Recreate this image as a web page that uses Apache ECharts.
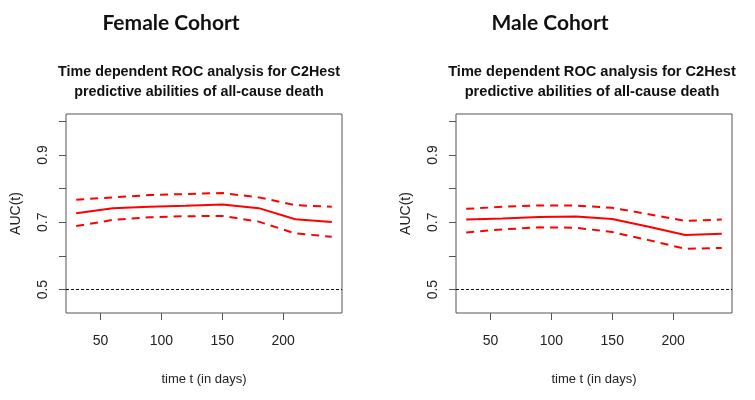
<!DOCTYPE html>
<html>
<head>
<meta charset="utf-8">
<script src="https://cdn.jsdelivr.net/npm/echarts@6/dist/echarts.min.js"></script>
<style>
  html, body { margin: 0; padding: 0; background: #fff; }
  #chart { width: 755px; height: 400px; }
</style>
</head>
<body>
<div id="chart"></div>
<script>
// time points (days)
const times = [30, 60, 90, 120, 150, 180, 210, 240];

// female cohort: AUC(t) and 95% CI
const femaleAUC   = [0.727, 0.742, 0.746, 0.749, 0.753, 0.742, 0.709, 0.701];
const femaleUpper = [0.767, 0.774, 0.781, 0.784, 0.787, 0.774, 0.751, 0.746];
const femaleLower = [0.689, 0.707, 0.715, 0.718, 0.719, 0.702, 0.667, 0.657];

// male cohort
const maleAUC   = [0.708, 0.711, 0.716, 0.717, 0.710, 0.687, 0.662, 0.666];
const maleUpper = [0.740, 0.746, 0.750, 0.750, 0.743, 0.724, 0.704, 0.708];
const maleLower = [0.670, 0.679, 0.685, 0.684, 0.671, 0.647, 0.621, 0.624];

const xTicks = [50, 100, 150, 200];
const yTicks = [0.5, 0.6, 0.7, 0.8, 0.9, 1.0];
const yLabels = [0.5, 0.7, 0.9];
const refLevel = 0.5;

const cohortTitles = ['Female Cohort', 'Male Cohort'];
const plotTitle = 'Time dependent ROC analysis for C2Hest\npredictive abilities of all-cause death';

const rFont = '"Liberation Sans", Arial, sans-serif';
const boxColor = '#555';

const chart = echarts.init(document.getElementById('chart'));

function pairs(ys) {
  return times.map((t, i) => [t, ys[i]]);
}

function xAxisFor(idx) {
  return {
    gridIndex: idx, type: 'value', min: 21.6, max: 248.4,
    name: 'time t (in days)', nameLocation: 'middle', nameGap: 60,
    nameTextStyle: { fontFamily: rFont, fontSize: 13, color: '#222' },
    axisLine: { show: false },
    splitLine: { show: false },
    axisTick: { show: true, length: 7, customValues: xTicks, lineStyle: { color: boxColor } },
    axisLabel: { customValues: xTicks, margin: 21, fontFamily: rFont, fontSize: 14, color: '#222' }
  };
}

function yAxisFor(idx) {
  return {
    gridIndex: idx, type: 'value', min: 0.4305, max: 1.0218,
    name: 'AUC(t)', nameLocation: 'middle', nameRotate: 90, nameGap: 43,
    nameTextStyle: { fontFamily: rFont, fontSize: 14, color: '#222' },
    axisLine: { show: false },
    splitLine: { show: false },
    axisTick: { show: true, length: 7, customValues: yTicks, lineStyle: { color: boxColor } },
    axisLabel: {
      customValues: yLabels, rotate: 90, margin: 16,
      fontFamily: rFont, fontSize: 14, color: '#222',
      formatter: v => v.toFixed(1)
    }
  };
}

function seriesFor(idx, mid, up, low) {
  const base = { type: 'line', xAxisIndex: idx, yAxisIndex: idx, showSymbol: false, silent: true, color: '#ff0000' };
  return [
    Object.assign({}, base, {
      data: pairs(mid), lineStyle: { width: 2, color: '#ff0000' },
      markLine: {
        symbol: 'none', silent: true, label: { show: false },
        lineStyle: { type: [3, 2], width: 1, color: '#111' },
        data: [{ yAxis: refLevel }]
      }
    }),
    Object.assign({}, base, { data: pairs(up), lineStyle: { width: 2, type: [8, 6], color: '#ff0000' } }),
    Object.assign({}, base, { data: pairs(low), lineStyle: { width: 2, type: [8, 6], color: '#ff0000' } })
  ];
}

chart.setOption({
  backgroundColor: '#fff',
  animation: false,
  title: [
    { text: cohortTitles[0], left: 166, top: 8, textAlign: 'center',
      textStyle: { fontFamily: 'Lato, "Open Sans", sans-serif', fontWeight: 'bold', fontSize: 21, color: '#111' } },
    { text: cohortTitles[1], left: 545, top: 8, textAlign: 'center',
      textStyle: { fontFamily: 'Lato, "Open Sans", sans-serif', fontWeight: 'bold', fontSize: 21, color: '#111' } },
    { text: plotTitle, left: 194, top: 57, textAlign: 'center',
      textStyle: { fontFamily: rFont, fontWeight: 'bold', fontSize: 14.3, lineHeight: 20, color: '#111' } },
    { text: plotTitle, left: 587, top: 57, textAlign: 'center',
      textStyle: { fontFamily: rFont, fontWeight: 'bold', fontSize: 14.6, lineHeight: 20, color: '#111' } }
  ],
  grid: [
    { left: 66, top: 114, width: 276, height: 199, show: true, borderColor: boxColor, borderWidth: 1, backgroundColor: 'transparent' },
    { left: 456, top: 114, width: 276, height: 199, show: true, borderColor: boxColor, borderWidth: 1, backgroundColor: 'transparent' }
  ],
  xAxis: [xAxisFor(0), xAxisFor(1)],
  yAxis: [yAxisFor(0), yAxisFor(1)],
  series: [].concat(
    seriesFor(0, femaleAUC, femaleUpper, femaleLower),
    seriesFor(1, maleAUC, maleUpper, maleLower)
  )
});
</script>
</body>
</html>
